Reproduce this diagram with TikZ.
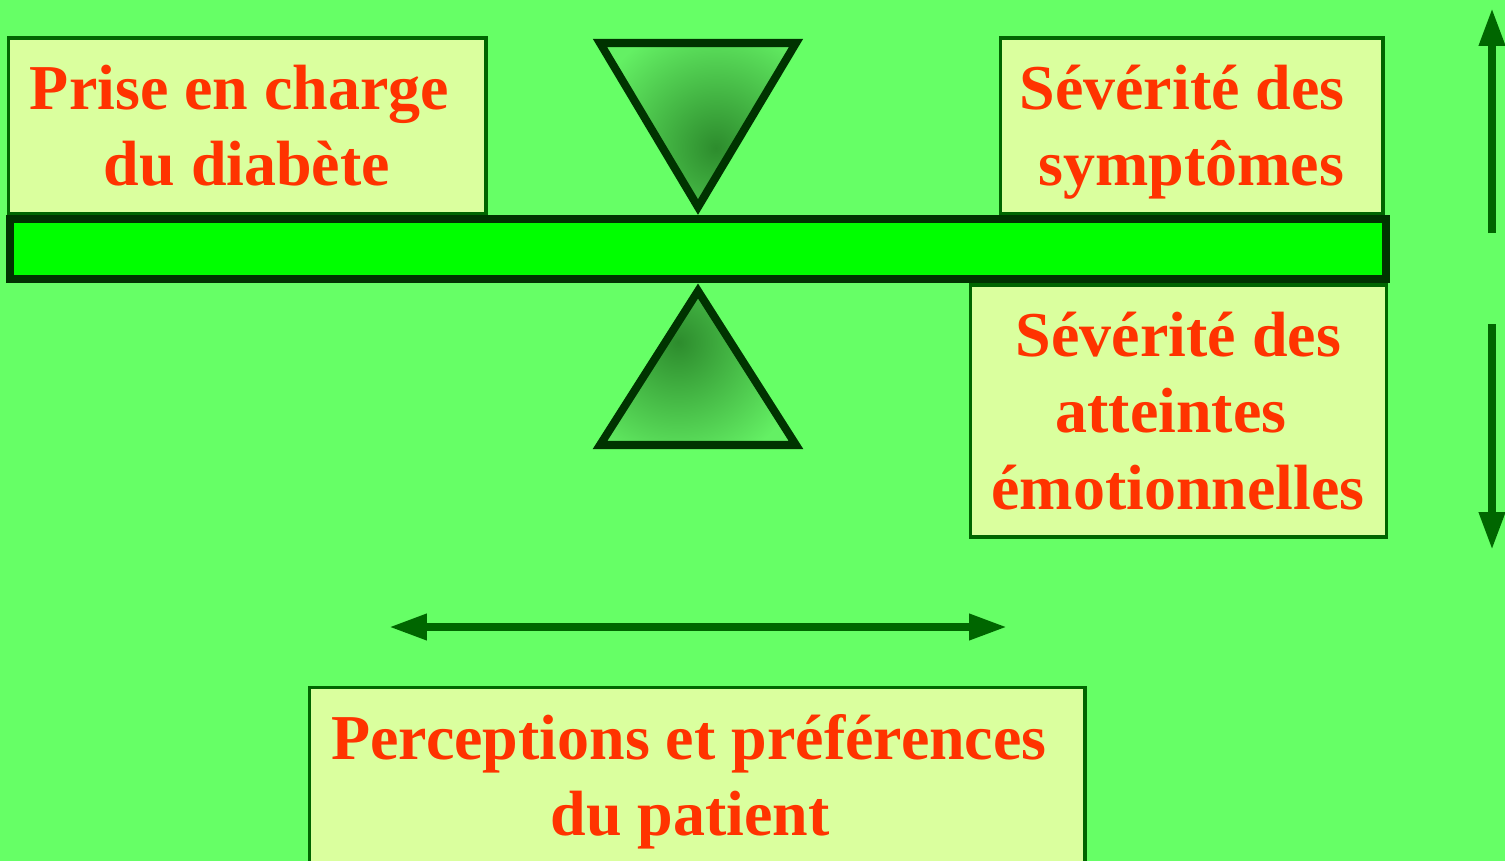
\documentclass[tikz,border=0pt]{standalone}
\usepackage{fontspec}
\setmainfont{Liberation Serif}
\usetikzlibrary{arrows.meta}
\definecolor{bg}{RGB}{102,255,102}
\definecolor{boxfill}{RGB}{218,255,158}
\definecolor{boxline}{RGB}{0,102,0}
\definecolor{txtcol}{RGB}{255,51,0}
\definecolor{barfill}{RGB}{0,255,0}
\definecolor{darkline}{RGB}{0,51,0}
\definecolor{arrowcol}{RGB}{0,102,0}
\definecolor{shdark}{RGB}{45,140,45}
\definecolor{shlight}{RGB}{100,240,100}
\begin{document}
\begin{tikzpicture}[x=0.05cm,y=-0.05cm,
 box/.style={draw=boxline,fill=boxfill,line width=4.3pt,inner sep=0pt},
 lbl/.style={text=txtcol,font=\fontsize{91}{107}\selectfont\bfseries,inner sep=0pt,anchor=base},
 beam/.style={draw=darkline,fill=barfill,line width=11.4pt,inner sep=0pt},
 tri/.style={draw=darkline,line width=11.4pt,line join=miter},
 arr/.style={draw=arrowcol,line width=11.4pt,>={Triangle[length=54pt,width=35pt]}},
]
\useasboundingbox (0,0) rectangle (1505,861);
\clip (0,0) rectangle (1505,861);
\fill[bg] (0,0) rectangle (1505,861);

% boxes
\node[box,minimum width=23.875cm,minimum height=8.8cm] (b1) at (247.25,126) {};
\node[box,minimum width=19.15cm,minimum height=8.8cm] (b2) at (1191.5,126) {};
\node[box,minimum width=20.8cm,minimum height=12.6cm] (b3) at (1178.5,411) {};
\node[box,minimum width=38.8cm,minimum height=10.65cm] (b4) at (697,793.5) {};

% beam
\node[beam,minimum width=68.8cm,minimum height=3cm] (bar) at (698,249) {};

% top triangle
\coordinate (ta) at (600,43);
\coordinate (tb) at (796,43);
\coordinate (tc) at (698,207);
\fill[shlight] (ta) -- (tb) -- (tc) -- cycle;
\begin{scope}
\clip (ta) -- (tb) -- (tc) -- cycle;
\shade[inner color=shdark,outer color=shlight] (716,148) circle[radius=6.5cm];
\end{scope}
\draw[tri] (ta) -- (tb) -- (tc) -- cycle;

% bottom triangle
\coordinate (ba) at (698,291);
\coordinate (bb) at (796,445);
\coordinate (bc) at (600,445);
\fill[shlight] (ba) -- (bb) -- (bc) -- cycle;
\begin{scope}
\clip (ba) -- (bb) -- (bc) -- cycle;
\shade[inner color=shdark,outer color=shlight] (678,342) circle[radius=6.5cm];
\end{scope}
\draw[tri] (ba) -- (bb) -- (bc) -- cycle;

% arrows
\coordinate (u1) at (1492,233);
\coordinate (u2) at (1492,8);
\coordinate (d1) at (1492,324);
\coordinate (d2) at (1492,550);
\coordinate (h1) at (389,627);
\coordinate (h2) at (1007,627);
\draw[arr,->] (u1) -- (u2);
\draw[arr,->] (d1) -- (d2);
\draw[arr,<->] (h1) -- (h2);

% texts
\node[lbl] (t1a) at (239.5,109) {Prise en charge};
\node[lbl] (t1b) at (247,185.5) {du diabète};
\node[lbl] (t2a) at (1182,109) {Sévérité des};
\node[lbl] (t2b) at (1191.5,185.5) {symptômes};
\node[lbl] (t3a) at (1178.5,356) {Sévérité des};
\node[lbl] (t3b) at (1171,432) {atteintes};
\node[lbl] (t3c) at (1178,509) {émotionnelles};
\node[lbl] (t4a) at (689,759) {Perceptions et préférences};
\node[lbl] (t4b) at (690,835.5) {du patient};
\end{tikzpicture}
\end{document}
